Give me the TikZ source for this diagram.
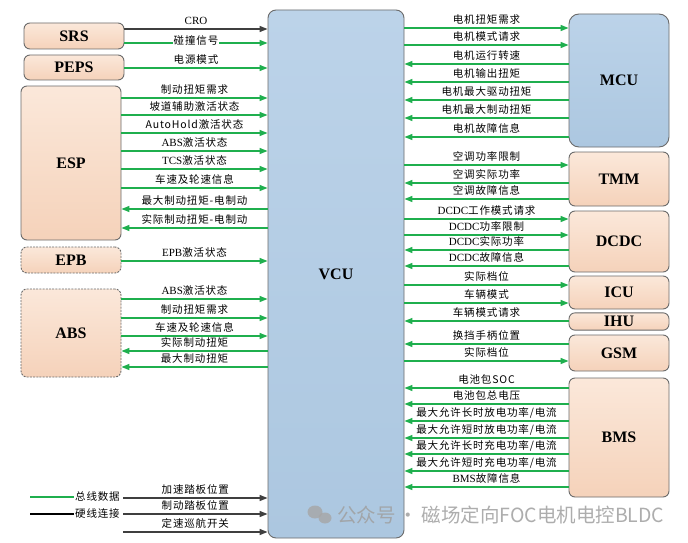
\documentclass[tikz,border=0pt]{standalone}
\usepackage{fontspec}
\setmainfont{Liberation Serif}
\newfontfamily\cjk[LetterSpace=8]{Noto Sans CJK SC}
\newfontfamily\wmfont{Noto Sans CJK SC}
\usetikzlibrary{arrows.meta}
\definecolor{busgreen}{HTML}{1FAF4E}
\definecolor{wiregray}{HTML}{3F3F3F}
\definecolor{peachtop}{HTML}{FBE8DA}
\definecolor{peachbot}{HTML}{F5D2BA}
\definecolor{bluetop}{HTML}{BCD3E9}
\definecolor{bluebot}{HTML}{ACC7E0}
\definecolor{edgegray}{HTML}{6B6B6B}
\tikzset{
  ecu/.style={draw=edgegray, line width=0.9pt, rounded corners=6pt, top color=peachtop, bottom color=peachbot, font=\bfseries\fontsize{16}{18}\selectfont},
  ecuopt/.style={ecu, dash pattern=on 2pt off 1.2pt},
  ctrl/.style={draw=edgegray, line width=0.9pt, rounded corners=8pt, top color=bluetop, bottom color=bluebot, font=\bfseries\fontsize{16}{18}\selectfont},
  bus/.style={draw=busgreen, line width=1.3pt, -{Triangle[length=8pt,width=6pt]}},
  wire/.style={draw=wiregray, line width=1.3pt, -{Triangle[length=8pt,width=6pt]}},
  lab/.style={midway, yshift=8.5pt, fill=white, inner sep=0.6pt, font=\cjk\fontsize{10.5}{12}\selectfont, text=black},
  leg/.style={font=\cjk\fontsize{10.5}{12}\selectfont, inner sep=1pt}
}
\newcommand\La[1]{{\rmfamily\fontsize{11}{12}\selectfont #1}}
% into VCU from left box
\newcommand\inL[4]{\draw[#1] (#2.east |- 0,#3) -- node[lab]{#4} (vcu.west |- 0,#3);}
% out of VCU to left box
\newcommand\outL[4]{\draw[#1] (vcu.west |- 0,#3) -- node[lab]{#4} (#2.east |- 0,#3);}
% out of VCU to right box
\newcommand\outR[4]{\draw[#1] (vcu.east |- 0,#3) -- node[lab]{#4} (#2.west |- 0,#3);}
% into VCU from right box
\newcommand\inR[4]{\draw[#1] (#2.west |- 0,#3) -- node[lab]{#4} (vcu.east |- 0,#3);}
\begin{document}
\begin{tikzpicture}[x=1pt,y=-1pt]
\useasboundingbox (0,0) rectangle (688,543);
\fill[white] (0,0) rectangle (688,543);
% controller
\node[ctrl, minimum width=136pt, minimum height=528pt] (vcu) at (336,274) {VCU};
% left boxes
\node[ecu, minimum width=100pt, minimum height=26pt] (srs) at (74,36) {SRS};
\node[ecu, minimum width=100pt, minimum height=25pt] (peps) at (74,67.5) {PEPS};
\node[ecu, minimum width=100pt, minimum height=154pt] (esp) at (71,163) {ESP};
\node[ecuopt, minimum width=100pt, minimum height=26pt] (epb) at (71,260) {EPB};
\node[ecuopt, minimum width=100pt, minimum height=88pt] (abs) at (71,333) {ABS};
% right boxes
\node[ctrl, rounded corners=10pt, minimum width=100pt, minimum height=133pt] (mcu) at (619,80.5) {MCU};
\node[ecu, minimum width=100pt, minimum height=54pt] (tmm) at (619,179) {TMM};
\node[ecu, minimum width=100pt, minimum height=61pt] (dcdc) at (619,241.5) {DCDC};
\node[ecu, minimum width=100pt, minimum height=33pt] (icu) at (619,292.5) {ICU};
\node[ecu, minimum width=100pt, minimum height=17pt] (ihu) at (619,321.5) {IHU};
\node[ecu, minimum width=100pt, minimum height=36pt] (gsm) at (619,353) {GSM};
\node[ecu, minimum width=100pt, minimum height=119pt] (bms) at (619,437.5) {BMS};
% SRS / PEPS
\inL{wire}{srs}{29}{\La{CRO}}
\draw[bus] (srs.east |- 0,43) -- node[lab, yshift=-6pt]{碰撞信号} (vcu.west |- 0,43);
\inL{bus}{peps}{68}{电源模式}
% ESP
\inL{bus}{esp}{98}{制动扭矩需求}
\inL{bus}{esp}{115}{坡道辅助激活状态}
\inL{bus}{esp}{133}{AutoHold激活状态}
\inL{bus}{esp}{151}{\La{ABS}激活状态}
\inL{bus}{esp}{169}{\La{TCS}激活状态}
\inL{bus}{esp}{188}{车速及轮速信息}
\outL{bus}{esp}{209}{最大制动扭矩-电制动}
\outL{bus}{esp}{228}{实际制动扭矩-电制动}
% EPB
\inL{bus}{epb}{261}{\La{EPB}激活状态}
% ABS
\inL{bus}{abs}{299}{\La{ABS}激活状态}
\inL{bus}{abs}{318}{制动扭矩需求}
\inL{bus}{abs}{336}{车速及轮速信息}
\outL{bus}{abs}{351}{实际制动扭矩}
\outL{bus}{abs}{367}{最大制动扭矩}
% hard wires at bottom
\coordinate (hw1) at (123,498);
\coordinate (hw2) at (123,514);
\coordinate (hw3) at (123,532);
\draw[wire] (hw1) -- node[lab]{加速踏板位置} (vcu.west |- hw1);
\draw[wire] (hw2) -- node[lab]{制动踏板位置} (vcu.west |- hw2);
\draw[wire] (hw3) -- node[lab]{定速巡航开关} (vcu.west |- hw3);
% legend
\node[leg, anchor=west] (lgbus) at (74,497) {总线数据};
\node[leg, anchor=west] (lgwire) at (74,514) {硬线连接};
\coordinate (lb0) at (30,497);
\coordinate (lw0) at (30,514);
\draw[draw=busgreen, line width=1.3pt] (lb0) -- (lgbus.west);
\draw[draw=black, line width=1.3pt] (lw0) -- (lgwire.west);
% MCU
\outR{bus}{mcu}{28}{电机扭矩需求}
\outR{bus}{mcu}{45}{电机模式请求}
\inR{bus}{mcu}{64}{电机运行转速}
\inR{bus}{mcu}{82}{电机输出扭矩}
\inR{bus}{mcu}{100}{电机最大驱动扭矩}
\inR{bus}{mcu}{118}{电机最大制动扭矩}
\inR{bus}{mcu}{137}{电机故障信息}
% TMM
\outR{bus}{tmm}{165}{空调功率限制}
\inR{bus}{tmm}{183}{空调实际功率}
\inR{bus}{tmm}{199}{空调故障信息}
% DCDC
\outR{bus}{dcdc}{219}{\La{DCDC}工作模式请求}
\outR{bus}{dcdc}{235}{\La{DCDC}功率限制}
\inR{bus}{dcdc}{250}{\La{DCDC}实际功率}
\inR{bus}{dcdc}{266}{\La{DCDC}故障信息}
% ICU / IHU
\outR{bus}{icu}{285}{实际档位}
\outR{bus}{icu}{303}{车辆模式}
\inR{bus}{ihu}{321}{车辆模式请求}
% GSM
\inR{bus}{gsm}{344}{换挡手柄位置}
\outR{bus}{gsm}{361}{实际档位}
% BMS
\inR{bus}{bms}{388}{电池包SOC}
\inR{bus}{bms}{404}{电池包总电压}
\inR{bus}{bms}{421}{最大允许长时放电功率/电流}
\inR{bus}{bms}{438}{最大允许短时放电功率/电流}
\inR{bus}{bms}{454}{最大允许长时充电功率/电流}
\inR{bus}{bms}{471}{最大允许短时充电功率/电流}
\inR{bus}{bms}{487}{\La{BMS}故障信息}
% watermark
\fill[gray!70, opacity=0.8] (315,512) ellipse (7.5pt and 6.5pt);
\fill[gray!70, opacity=0.8] (325,518) ellipse (6.5pt and 5.5pt);
\node[anchor=west, text=gray!75, opacity=0.85, font=\wmfont\fontsize{19.5}{22}\selectfont, inner sep=0pt] (wm) at (337,515) {公众号\,·\,磁场定向FOC电机电控BLDC};
\end{tikzpicture}
\end{document}
